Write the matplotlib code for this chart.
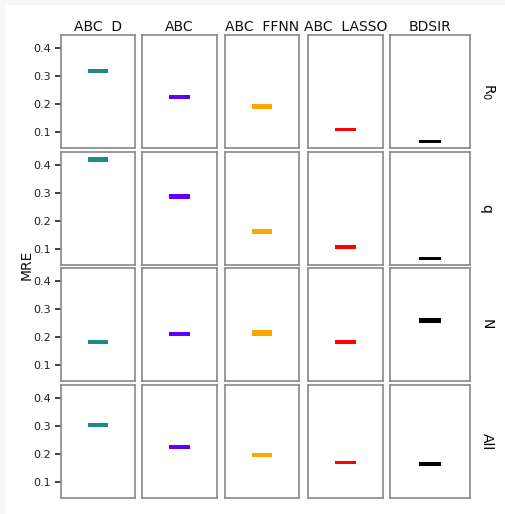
import numpy as np
import matplotlib.pyplot as plt
from matplotlib.patches import Rectangle

methods = ['ABC  D', 'ABC', 'ABC  FFNN', 'ABC  LASSO', 'BDSIR']
params = [r'R$_0$', 'q', 'N', 'All']
colors = ['#1e8a84', '#6000ff', '#ffa500', '#ff0000', '#000000']

# lower / upper edge of each MRE box, rows = params, cols = methods
mre_lo = [
    [0.309, 0.217, 0.181, 0.103, 0.061],
    [0.410, 0.277, 0.155, 0.099, 0.061],
    [0.176, 0.205, 0.204, 0.176, 0.249],
    [0.297, 0.218, 0.191, 0.163, 0.158],
]
mre_hi = [
    [0.326, 0.233, 0.200, 0.113, 0.071],
    [0.429, 0.295, 0.170, 0.113, 0.071],
    [0.190, 0.219, 0.224, 0.190, 0.266],
    [0.311, 0.232, 0.205, 0.174, 0.172],
]

W, H = 505, 514
fig = plt.figure(figsize=(W / 100, H / 100), dpi=100, facecolor='#f7f7f7')
fig.patches.append(Rectangle((5 / W, 0), 1, 1 - 5 / H, transform=fig.transFigure,
                             facecolor='white', edgecolor='none', zorder=-1))

col_x = [61, 142, 225, 308, 390]
col_w = [74, 75, 74, 75, 80]
row_y = [35, 152, 268, 385]
row_h = 113

for i in range(4):
    for j in range(5):
        ax = fig.add_axes([col_x[j] / W, 1 - (row_y[i] + row_h) / H,
                           col_w[j] / W, row_h / H])
        ax.bar([0], [mre_hi[i][j] - mre_lo[i][j]], bottom=[mre_lo[i][j]],
               width=0.54, color=colors[j], edgecolor='none')
        ax.set_xlim(-1, 1)
        ax.set_ylim(0.043, 0.446)
        ax.set_xticks([])
        for s in ax.spines.values():
            s.set_color('#888888')
            s.set_linewidth(1.2)
        if j == 0:
            ax.set_yticks([0.1, 0.2, 0.3, 0.4])
            ax.tick_params(axis='y', labelsize=8, length=4, width=1.2,
                           color='#222222', labelcolor='#222222')
        else:
            ax.set_yticks([])
        if i == 0:
            ax.set_title(methods[j], fontsize=10, pad=3, color='#111111')
        if j == 4:
            ax.text(1.12, 0.5, params[i], transform=ax.transAxes,
                    rotation=270, ha='left', va='center', fontsize=10)

fig.text(27 / W, 1 - 265 / H, 'MRE', rotation=90, ha='center', va='center',
         fontsize=10, color='#111111')

fig.savefig('out.png', dpi=100, facecolor=fig.get_facecolor())
